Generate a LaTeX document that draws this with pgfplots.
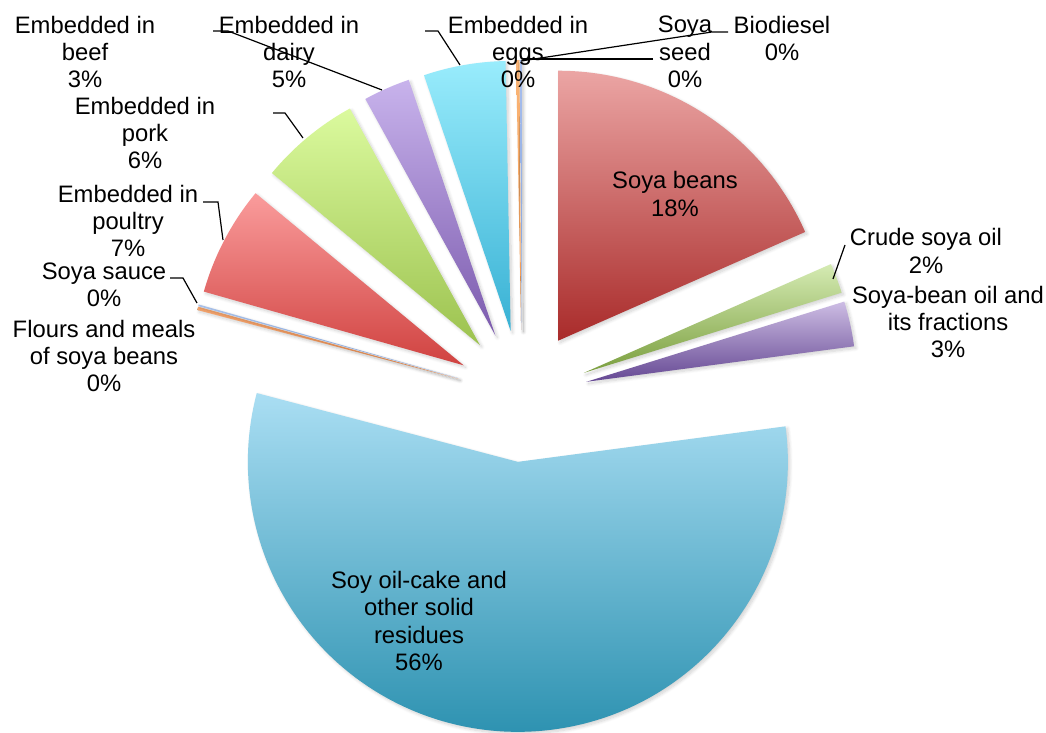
\documentclass[border=0pt]{standalone}
\usepackage{fontspec}
\setmainfont{Liberation Sans}
\usepackage{pgfplots}
\pgfplotsset{compat=1.18}
\usetikzlibrary{shadows.blur}

% Excel-like colours (top / bottom of each slice gradient)
\definecolor{sbT}{HTML}{EBA5A4}\definecolor{sbB}{HTML}{A92B2A}
\definecolor{crT}{HTML}{D5EBB3}\definecolor{crB}{HTML}{7A9E3E}
\definecolor{soT}{HTML}{CDBDE4}\definecolor{soB}{HTML}{654893}
\definecolor{ocT}{HTML}{AADEF3}\definecolor{ocB}{HTML}{2A90AF}
\definecolor{flT}{HTML}{F9A870}\definecolor{flB}{HTML}{EE8E50}
\definecolor{ssT}{HTML}{A8C0E8}\definecolor{ssB}{HTML}{7F9FD8}
\definecolor{poT}{HTML}{FA9C9C}\definecolor{poB}{HTML}{D04240}
\definecolor{pkT}{HTML}{DBFA9E}\definecolor{pkB}{HTML}{9CC24F}
\definecolor{bfT}{HTML}{C8B3EC}\definecolor{bfB}{HTML}{7B5AAD}
\definecolor{dyT}{HTML}{99ECFC}\definecolor{dyB}{HTML}{38B1D4}
\definecolor{egT}{HTML}{FAB577}\definecolor{egB}{HTML}{F39A50}
\definecolor{sdT}{HTML}{A9C0EF}\definecolor{sdB}{HTML}{7F9FD8}

\tikzset{slice shadow/.style={blur shadow={shadow xshift=1pt,shadow yshift=-1pt,shadow blur radius=1.6pt,shadow blur steps=8,shadow opacity=18}}}

% pie geometry in picture pixels: centre (522,337), explosion 66, radius 270 (=135pt)
\newcommand\cum{0}
\newcommand\slice[3]{%
  \pgfmathsetmacro\aS{90-3.6*\cum}%
  \pgfmathsetmacro\newcum{\cum+#1}%
  \xdef\cum{\newcum}%
  \pgfmathsetmacro\aE{90-3.6*\cum}%
  \pgfmathsetmacro\aM{(\aS+\aE)/2}%
  \pgfmathsetmacro\px{522+66*cos(\aM)}%
  \pgfmathsetmacro\py{337+66*sin(\aM)}%
  \edef\temp{\noexpand\shade[top color=#2,bottom color=#3,slice shadow] (axis cs:\px,\py) -- ++(canvas polar cs:angle=\aS,radius=135pt) arc[start angle=\aS,end angle=\aE,radius=135pt] -- cycle;}%
  \temp
}
\newcommand\lf{\fontsize{11.9}{13.6}\selectfont}
\newcommand\lab[3]{\node[align=center,font=\lf,inner sep=0pt] at (axis cs:#1,#2) {#3};}

\begin{document}
\begin{tikzpicture}
\begin{axis}[x=0.5pt,y=0.5pt,xmin=0,xmax=1046,ymin=0,ymax=733,hide axis,clip=false]
\coordinate (ll) at (axis cs:0,0);
\coordinate (ur) at (axis cs:1046,733);
% values in percent, clockwise from 12 o'clock (Biodiesel = 0)
\slice{18.4}{sbT}{sbB}  % Soya beans
\slice{1.8}{crT}{crB}   % Crude soya oil
\slice{2.7}{soT}{soB}   % Soya-bean oil and its fractions
\slice{56.2}{ocT}{ocB}  % Soy oil-cake and other solid residues
\slice{0.2}{flT}{flB}   % Flours and meals of soya beans
\slice{0.1}{ssT}{ssB}   % Soya sauce
\slice{6.6}{poT}{poB}   % Embedded in poultry
\slice{6.0}{pkT}{pkB}   % Embedded in pork
\slice{2.8}{bfT}{bfB}   % Embedded in beef
\slice{4.9}{dyT}{dyB}   % Embedded in dairy
\slice{0.2}{egT}{egB}   % Embedded in eggs
\slice{0.1}{sdT}{sdB}   % Soya seed
% leader lines
\draw[line width=0.6pt] (axis cs:213,702) -- (axis cs:228,702) -- (axis cs:382,643);
\draw[line width=0.6pt] (axis cs:425,702) -- (axis cs:438,702) -- (axis cs:460,668);
\draw[line width=0.6pt] (axis cs:653,674) -- (axis cs:523,674);
\draw[line width=0.6pt] (axis cs:728,701) -- (axis cs:712,701) -- (axis cs:521,672);
\draw[line width=0.6pt] (axis cs:273,620) -- (axis cs:285,620) -- (axis cs:303,595);
\draw[line width=0.6pt] (axis cs:203,531) -- (axis cs:218,531) -- (axis cs:223,493);
\draw[line width=0.6pt] (axis cs:170,455) -- (axis cs:183,455) -- (axis cs:197,430);
\draw[line width=0.6pt] (axis cs:845,488) -- (axis cs:833,454);
% labels
\lab{85}{681}{Embedded in\\beef\\3\%}
\lab{289}{681}{Embedded in\\dairy\\5\%}
\lab{518}{681}{Embedded in\\eggs\\0\%}
\lab{685}{681}{Soya\\seed\\0\%}
\lab{782}{694.5}{Biodiesel\\0\%}
\lab{145}{600}{Embedded in\\pork\\6\%}
\lab{128}{512}{Embedded in\\poultry\\7\%}
\lab{104}{448.5}{Soya sauce\\0\%}
\lab{104}{377}{Flours and meals\\of soya beans\\0\%}
\lab{675}{539}{Soya beans\\18\%}
\lab{926}{482}{Crude soya oil\\2\%}
\lab{948}{411}{Soya-bean oil and\\its fractions\\3\%}
\lab{419}{112}{Soy oil-cake and\\other solid\\residues\\56\%}
\end{axis}
\pgfresetboundingbox
\path (ll) rectangle (ur);
\end{tikzpicture}
\end{document}
